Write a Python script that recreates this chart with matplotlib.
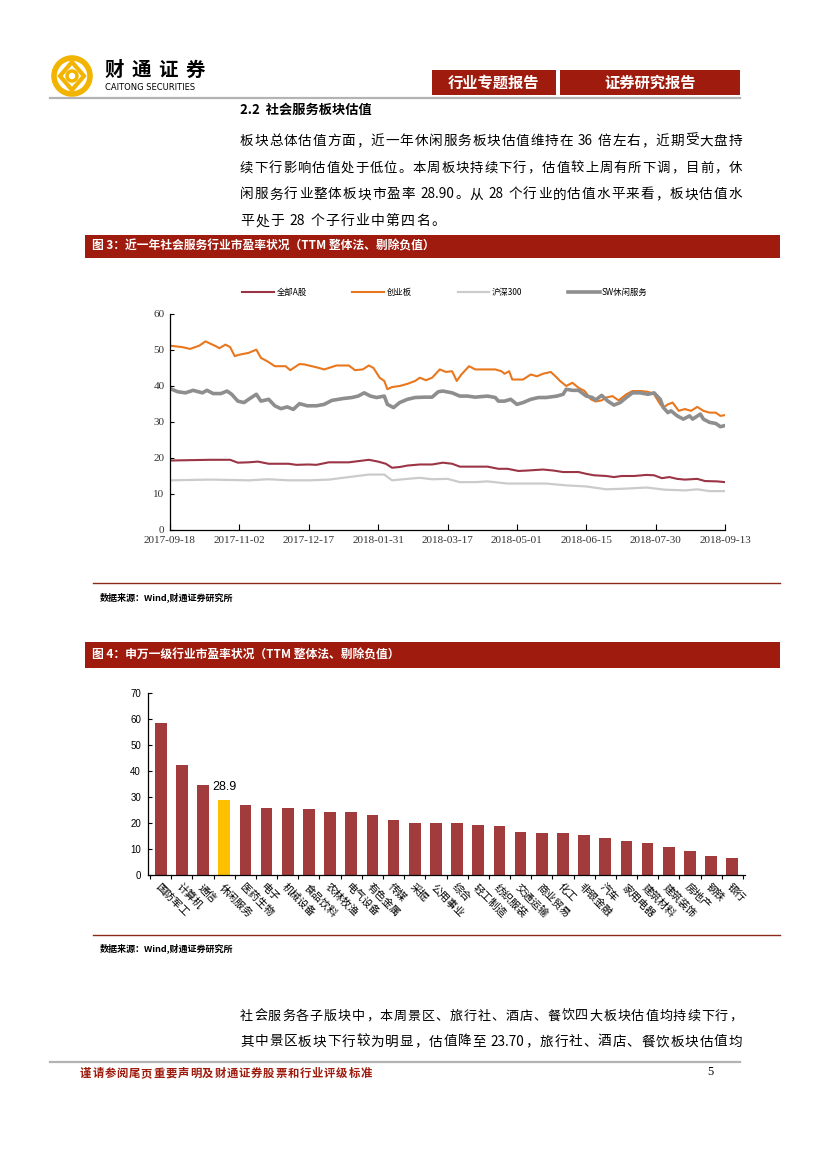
import re
import numpy as np
import matplotlib
matplotlib.use('Agg')
import matplotlib.pyplot as plt
from matplotlib.patches import Rectangle, Circle, Polygon
from matplotlib.font_manager import FontProperties
from matplotlib.ticker import FixedLocator

CJK = ['Noto Sans CJK SC', 'DejaVu Sans']
plt.rcParams['font.family'] = CJK
plt.rcParams['axes.unicode_minus'] = False

# ---------------- data: figure 3 (PE, TTM) ----------------
ts_tick_labels = ["2017-09-18", "2017-11-02", "2017-12-17", "2018-01-31", "2018-03-17",
                  "2018-05-01", "2018-06-15", "2018-07-30", "2018-09-13"]
ts_tick_days = [0, 45, 90, 135, 180, 225, 270, 315, 360]   # days since 2017-09-18
series_names = ["全部A股", "创业板", "沪深300", "SW休闲服务"]

all_a_days = [0, 26, 39, 44, 51, 57, 64, 77, 82, 90,
              95, 103, 116, 129, 135, 140, 144, 149, 154, 162,
              170, 177, 183, 188, 195, 206, 213, 219, 226, 231,
              242, 249, 255, 265, 270, 275, 283, 288, 293, 301,
              309, 314, 319, 324, 329, 334, 342, 347, 355, 360]
all_a_vals = [19.3, 19.5, 19.5, 18.7, 18.8, 19.0, 18.4, 18.4, 18.1, 18.2,
              18.1, 18.8, 18.8, 19.5, 19.0, 18.4, 17.3, 17.5, 17.9, 18.2,
              18.2, 18.7, 18.4, 17.6, 17.6, 17.6, 17.0, 17.0, 16.4, 16.5,
              16.8, 16.5, 16.1, 16.1, 15.6, 15.2, 15.0, 14.7, 15.0, 15.0,
              15.3, 15.2, 14.4, 14.7, 14.2, 14.0, 14.2, 13.6, 13.5, 13.3]

cyb_days = [0, 8, 13, 19, 23, 30, 32, 36, 39, 42,
            45, 51, 56, 59, 63, 68, 75, 78, 84, 87,
            95, 100, 108, 116, 120, 125, 129, 132, 136, 139,
            141, 144, 149, 154, 159, 162, 166, 170, 175, 179,
            183, 186, 189, 194, 198, 206, 211, 215, 217, 220,
            222, 229, 234, 238, 242, 247, 251, 253, 257, 261,
            265, 269, 273, 276, 280, 283, 287, 291, 296, 300,
            305, 310, 314, 318, 320, 323, 326, 330, 334, 338,
            342, 346, 350, 354, 357, 360]
cyb_vals = [51.2, 50.8, 50.3, 51.2, 52.4, 51.0, 50.5, 51.5, 50.8, 48.3,
            48.7, 49.2, 50.1, 47.8, 46.9, 45.5, 45.5, 44.4, 46.1, 46.0,
            45.2, 44.6, 45.7, 45.7, 44.4, 44.6, 45.7, 45.0, 42.3, 41.4,
            39.1, 39.7, 40.0, 40.6, 41.4, 42.3, 41.6, 42.3, 44.6, 43.9,
            44.1, 41.4, 43.2, 45.5, 44.6, 44.6, 44.6, 44.1, 43.4, 44.1,
            41.8, 41.8, 43.2, 42.7, 43.4, 43.9, 42.3, 41.4, 40.0, 40.9,
            39.5, 38.6, 36.3, 35.7, 36.0, 36.8, 37.2, 36.0, 37.7, 38.6,
            38.6, 38.4, 37.7, 34.9, 34.0, 34.9, 35.4, 33.1, 33.6, 33.1,
            34.2, 33.1, 32.6, 32.6, 31.7, 31.9]

hs300_days = [0, 26, 51, 64, 77, 90, 103, 116, 129, 139,
              144, 154, 162, 170, 180, 188, 198, 206, 219, 231,
              244, 257, 270, 283, 296, 309, 321, 334, 342, 350, 360]
hs300_vals = [13.8, 14.0, 13.8, 14.1, 13.8, 13.8, 14.0, 14.7, 15.4, 15.4,
              13.8, 14.2, 14.5, 14.1, 14.2, 13.3, 13.3, 13.5, 12.9, 12.9,
              12.9, 12.4, 12.1, 11.3, 11.5, 11.8, 11.2, 11.0, 11.3, 10.8, 10.8]

sw_days = [0, 5, 10, 15, 21, 24, 28, 33, 37, 40,
           44, 48, 51, 56, 59, 64, 68, 72, 76, 80,
           84, 89, 95, 100, 105, 112, 118, 122, 126, 130,
           134, 139, 141, 145, 149, 154, 159, 165, 170, 174,
           177, 183, 188, 193, 198, 206, 211, 213, 217, 221,
           225, 229, 234, 239, 244, 251, 255, 257, 261, 265,
           270, 274, 276, 280, 284, 288, 292, 296, 300, 305,
           310, 314, 318, 320, 323, 325, 329, 333, 337, 339,
           344, 346, 350, 354, 357, 360]
sw_vals = [39.3, 38.4, 38.1, 38.8, 38.1, 38.8, 37.9, 37.9, 38.6, 37.7,
           35.8, 35.4, 36.3, 37.7, 35.8, 36.3, 34.5, 33.7, 34.2, 33.5,
           35.1, 34.5, 34.5, 34.9, 36.0, 36.5, 36.8, 37.2, 38.1, 37.2,
           36.8, 37.2, 34.9, 34.0, 35.4, 36.3, 36.8, 36.9, 36.9, 38.4,
           38.6, 38.1, 37.2, 37.2, 36.9, 37.2, 36.8, 35.8, 35.8, 36.3,
           34.9, 35.4, 36.3, 36.8, 36.8, 37.2, 37.7, 39.1, 38.8, 38.8,
           37.2, 36.8, 36.1, 37.4, 35.8, 34.7, 35.4, 36.8, 38.1, 38.1,
           37.7, 38.1, 36.3, 34.0, 32.6, 33.1, 31.7, 30.8, 31.7, 30.8,
           32.2, 30.8, 29.9, 29.6, 28.7, 29.0]

# ---------------- data: figure 4 (SW level-1 industries PE) ----------------
industries = ["国防军工", "计算机", "通信", "休闲服务", "医药生物", "电子", "机械设备",
              "食品饮料", "农林牧渔", "电气设备", "有色金属", "传媒", "采掘", "公用事业",
              "综合", "轻工制造", "纺织服装", "交通运输", "商业贸易", "化工", "非银金融",
              "汽车", "家用电器", "建筑材料", "建筑装饰", "房地产", "钢铁", "银行"]
industry_pe = [58.3, 42.2, 34.7, 28.9, 27.1, 25.9, 25.9,
               25.5, 24.3, 24.3, 23.1, 21.1, 19.9, 19.9,
               19.9, 19.4, 19.0, 16.7, 16.3, 16.0, 15.5,
               14.2, 13.1, 12.2, 10.7, 9.4, 7.4, 6.7]
highlight = "休闲服务"

# ---------------- page texts ----------------
para1 = ["板块总体估值方面，近一年休闲服务板块估值维持在 36 倍左右，近期受大盘持",
         "续下行影响估值处于低位。本周板块持续下行，估值较上周有所下调，目前，休",
         "闲服务行业整体板块市盈率 28.90。从 28 个行业的估值水平来看，板块估值水",
         "平处于 28 个子行业中第四名。"]
para2 = ["社会服务各子版块中，本周景区、旅行社、酒店、餐饮四大板块估值均持续下行，",
         "其中景区板块下行较为明显，估值降至 23.70，旅行社、酒店、餐饮板块估值均"]

RED = '#9E1B0D'
W, H = 827, 1170
fig = plt.figure(figsize=(W / 100, H / 100), dpi=100)
page = fig.add_axes([0, 0, 1, 1])
page.set_xlim(0, W)
page.set_ylim(H, 0)
page.axis('off')
renderer = fig.canvas.get_renderer()


def text_w(s, fp):
    w, h, d = renderer.get_text_width_height_descent(s, fp, ismath=False)
    return w


def line_text(x0, x1, y, s, size, weight='normal', color='black', justify=True):
    toks = re.findall(r'[A-Za-z0-9.%]+| |.', s)
    while True:
        fp = FontProperties(family=CJK, size=size, weight=weight)
        ws = [size * 0.3 if t == ' ' else text_w(t, fp) for t in toks]
        min_gap = size * 0.08
        if not justify or sum(ws) + min_gap * (len(toks) - 1) <= (x1 - x0) or size < 5:
            break
        size -= 0.2
    if justify and len(toks) > 1:
        gap = (x1 - x0 - sum(ws)) / (len(toks) - 1)
    else:
        gap = size * 0.12
    x = x0
    for t, w in zip(toks, ws):
        if t != ' ':
            page.text(x, y, t, fontproperties=fp, color=color, ha='left', va='baseline')
        x += w + gap


def ax_px(x0, y0, x1, y1):
    return fig.add_axes([x0 / W, 1 - y1 / H, (x1 - x0) / W, (y1 - y0) / H])


# ---------------- header ----------------
gold = '#F2B400'
page.add_patch(Circle((72, 76), 18, fill=False, ec=gold, lw=4))
page.add_patch(Polygon([(72, 62), (84, 76), (72, 90), (60, 76)], closed=True, fill=False, ec=gold, lw=3))
page.add_patch(Circle((72, 76), 5, fill=False, ec=gold, lw=2.5))
line_text(105, 205, 76, "财通证券", 14, weight='bold')
page.text(105, 88, "CAITONG SECURITIES", fontsize=6, family=['DejaVu Sans'], ha='left', va='center')
page.add_patch(Rectangle((432, 70), 124, 25, color=RED, lw=0))
page.add_patch(Rectangle((560, 70), 180, 25, color=RED, lw=0))
page.text(494, 82.5, "行业专题报告", color='white', fontsize=11, weight='bold', ha='center', va='center')
page.text(650, 82.5, "证券研究报告", color='white', fontsize=11, weight='bold', ha='center', va='center')
page.plot([50, 740], [98, 98], color='#B3B3B3', lw=1.6)

# ---------------- section text ----------------
page.text(240, 110, "2.2  社会服务板块估值", fontsize=9.5, weight='bold', ha='left', va='center')
for i, s in enumerate(para1):
    line_text(240, 742, 145 + i * 26.7, s, 10, justify=(i < len(para1) - 1))

# ---------------- figure 3 title ----------------
page.add_patch(Rectangle((85, 235), 695, 23, color=RED, lw=0))
page.text(92, 246.5, "图 3：近一年社会服务行业市盈率状况（TTM 整体法、剔除负值）",
          color='white', fontsize=8.5, weight='bold', ha='left', va='center')

# ---------------- figure 3 line chart ----------------
ax1 = ax_px(170, 314, 725, 530)
l1, = ax1.plot(all_a_days, all_a_vals, color='#9B3444', lw=1.5)
l2, = ax1.plot(cyb_days, cyb_vals, color='#E8771E', lw=1.5)
l3, = ax1.plot(hs300_days, hs300_vals, color='#CBCBCB', lw=1.6)
l4, = ax1.plot(sw_days, sw_vals, color='#8E8E8E', lw=2.6)
ax1.set_xlim(0, 360)
ax1.set_ylim(0, 60)
ax1.spines['top'].set_visible(False)
ax1.spines['right'].set_visible(False)
for sp in ('left', 'bottom'):
    ax1.spines[sp].set_linewidth(0.9)
ax1.set_yticks(range(0, 61, 10))
ax1.set_xticks(ts_tick_days)
ax1.set_xticklabels(ts_tick_labels)
ax1.tick_params(axis='y', direction='in', length=3, width=0.8, labelsize=8, pad=4)
ax1.tick_params(axis='x', direction='in', length=4, width=0.8, labelsize=8, pad=4)
for lab in ax1.get_xticklabels() + ax1.get_yticklabels():
    lab.set_family(['Liberation Serif', 'DejaVu Serif'])
    lab.set_color('#333333')

fig.legend([l1, l2, l3, l4], series_names, loc='center', ncol=4,
           bbox_to_anchor=(445 / W, 1 - 292 / H), frameon=False,
           fontsize=6, handlelength=3.8, columnspacing=5.5, handletextpad=0.3)

page.plot([93, 780], [583, 583], color='#8B2A1A', lw=1)
page.text(100, 597, "数据来源：Wind,财通证券研究所", fontsize=6.5, weight='bold', ha='left', va='center')

# ---------------- figure 4 title ----------------
page.add_patch(Rectangle((85, 642), 695, 26, color=RED, lw=0))
page.text(92, 655, "图 4：申万一级行业市盈率状况（TTM 整体法、剔除负值）",
          color='white', fontsize=8.5, weight='bold', ha='left', va='center')

# ---------------- figure 4 bar chart ----------------
ax2 = ax_px(148, 693, 745, 875)
xs = np.arange(len(industries))
bar_colors = ['#FFC000' if n == highlight else '#A23B3B' for n in industries]
ax2.bar(xs, industry_pe, width=0.55, color=bar_colors)
hi = industries.index(highlight)
ax2.text(xs[hi], industry_pe[hi] + 2.6, f"{industry_pe[hi]}", ha='center', va='bottom',
         fontsize=9, family=['Liberation Sans', 'DejaVu Sans'])
ax2.set_xlim(-0.6, len(industries) - 0.4)
ax2.set_ylim(0, 70)
ax2.spines['top'].set_visible(False)
ax2.spines['right'].set_visible(False)
for sp in ('left', 'bottom'):
    ax2.spines[sp].set_linewidth(0.9)
ax2.set_yticks(range(0, 71, 10))
ax2.tick_params(axis='y', direction='in', length=3, width=0.8, labelsize=7, pad=5)
for lab in ax2.get_yticklabels():
    lab.set_family(['Liberation Sans Narrow', 'Liberation Sans', 'DejaVu Sans'])
ax2.set_xticks(xs)
ax2.set_xticklabels(industries, rotation=-45, ha='left', va='top', rotation_mode='anchor', fontsize=7.6)
ax2.tick_params(axis='x', which='major', length=0, pad=5)
ax2.xaxis.set_minor_locator(FixedLocator(np.arange(-0.5, len(industries), 1.0)))
ax2.tick_params(axis='x', which='minor', direction='out', length=3, width=0.8)

page.plot([93, 780], [935, 935], color='#8B2A1A', lw=1)
page.text(100, 948, "数据来源：Wind,财通证券研究所", fontsize=6.5, weight='bold', ha='left', va='center')

# ---------------- closing text ----------------
for i, s in enumerate(para2):
    line_text(240, 742, 1020 + i * 25.5, s, 10, justify=True)

# ---------------- footer ----------------
page.plot([50, 740], [1062, 1062], color='#B3B3B3', lw=1.6)
line_text(80, 372, 1077, "谨请参阅尾页重要声明及财通证券股票和行业评级标准", 9, weight='bold', color=RED)
page.text(710, 1072, "5", fontsize=9, family=['Liberation Serif', 'DejaVu Serif'], ha='center', va='center')

fig.savefig('out.png', dpi=100)
